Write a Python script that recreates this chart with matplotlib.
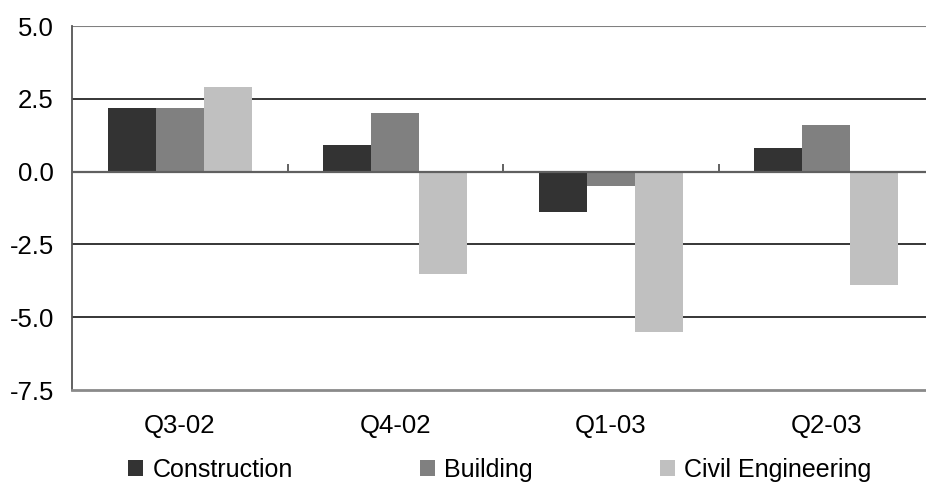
import matplotlib
matplotlib.use("Agg")
import matplotlib.pyplot as plt
from matplotlib.patches import Patch

categories = ["Q3-02", "Q4-02", "Q1-03", "Q2-03"]
series_names = ["Construction", "Building", "Civil Engineering"]
construction = [2.2, 0.9, -1.4, 0.8]
building = [2.2, 2.0, -0.5, 1.6]
civil = [2.9, -3.5, -5.5, -3.9]
colors = ["#333333", "#808080", "#c0c0c0"]
yticks = [-7.5, -5.0, -2.5, 0.0, 2.5, 5.0]
ytick_labels = ["-7.5", "-5.0", "-2.5", "0.0", "2.5", "5.0"]

plt.rcParams['font.family'] = ['Liberation Sans', 'DejaVu Sans']
W, H = 926, 483
fig = plt.figure(figsize=(W / 100, H / 100), dpi=100)
left, right, top, bottom = 72, 934, 26, 390
ax = fig.add_axes([left / W, 1 - bottom / H, (right - left) / W, (bottom - top) / H])

fs = 18.5
bw = 0.223
x = list(range(len(categories)))
for i, (vals, c) in enumerate(zip([construction, building, civil], colors)):
    ax.bar([xi + (i - 1) * bw for xi in x], vals, width=bw, color=c, zorder=3, linewidth=0)

ax.set_xlim(-0.5, len(categories) - 0.5)
ax.set_ylim(-7.5, 5.0)

for y in [-5.0, -2.5, 2.5]:
    ax.axhline(y, color="black", lw=1.1, zorder=1)
ax.axhline(5.0, color="#808080", lw=1.5, zorder=1)
ax.axhline(0.0, color="#606060", lw=1.6, zorder=4)

for s in ["top", "right"]:
    ax.spines[s].set_visible(False)
ax.spines["left"].set_color("#555555")
ax.spines["left"].set_linewidth(1.3)
ax.spines["bottom"].set_color("#8a8a8a")
ax.spines["bottom"].set_linewidth(2.0)

ax.set_yticks(yticks)
ax.set_yticklabels(ytick_labels, fontsize=fs)
ax.tick_params(axis="y", length=0, pad=13)
ax.set_xticks(x)
ax.set_xticklabels(categories, fontsize=fs)
ax.tick_params(axis="x", length=0, pad=17)

# category boundary tick marks on zero line
sec = ax.secondary_xaxis(0.6)
sec.set_xticks([0.5, 1.5, 2.5])
sec.set_xticklabels([])
sec.tick_params(direction="out", length=6, width=1.3, color="#555555")
for s in sec.spines.values():
    s.set_visible(False)

handles = [Patch(facecolor=c, edgecolor="none") for c in colors]
fig.legend(handles, series_names, loc="center", bbox_to_anchor=(500 / W, 1 - 470 / H),
           ncol=3, frameon=False, fontsize=18, handlelength=0.6, handleheight=0.6,
           handletextpad=0.36, columnspacing=5.1, borderpad=0, borderaxespad=0)

fig.savefig("out.png", dpi=100)
